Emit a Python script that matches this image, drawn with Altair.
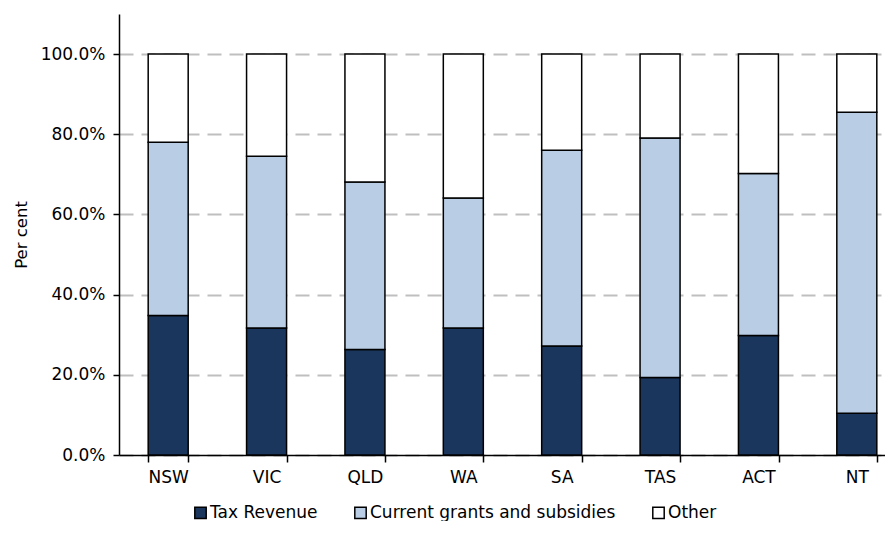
import altair as alt
import pandas as pd

states = ["NSW", "VIC", "QLD", "WA", "SA", "TAS", "ACT", "NT"]
series = ["Tax Revenue", "Current grants and subsidies", "Other"]
tax = [34.8, 31.7, 26.3, 31.7, 27.2, 19.3, 29.8, 10.4]
grants = [43.2, 42.8, 41.8, 32.4, 48.8, 59.8, 40.4, 75.1]
other = [round(100 - t - g, 1) for t, g in zip(tax, grants)]
colors = ["#1B365D", "#B9CDE5", "#FFFFFF"]
y_ticks = [0, 0.2, 0.4, 0.6, 0.8, 1.0]

rows = []
for i, s in enumerate(states):
    for k, (name, vals) in enumerate(zip(series, [tax, grants, other])):
        rows.append({"State": s, "Series": name, "Value": vals[i] / 100.0, "Order": k})
df = pd.DataFrame(rows)

FONT = "DejaVu Sans"

chart = alt.Chart(df).mark_bar(stroke="black", strokeWidth=1.5, size=40).encode(
    x=alt.X("State:N", sort=states,
            scale=alt.Scale(range=[0, 787], paddingInner=0.59, paddingOuter=0.295),
            axis=alt.Axis(title=None, labelAngle=0, labelFontSize=17, labelFont=FONT,
                          labelColor="black", domainColor="black", domainWidth=1.5,
                          tickColor="black", tickWidth=1.5, tickSize=7, tickBand="extent",
                          labelPadding=7, grid=False)),
    y=alt.Y("Value:Q", stack="zero",
            scale=alt.Scale(domain=[0, 1.1], nice=False),
            axis=alt.Axis(title="Per cent", format=".1%", values=y_ticks,
                          labelFontSize=17, labelFont=FONT, labelColor="black",
                          titleFont=FONT, titleFontSize=16.5, titleFontWeight="normal",
                          titleColor="black", titlePadding=11,
                          domainColor="black", domainWidth=1.5,
                          tickColor="black", tickWidth=1.5, tickSize=6, labelPadding=8,
                          grid=True, gridColor="#BFBFBF", gridDash=[14, 8], gridWidth=2)),
    color=alt.Color("Series:N", sort=series,
                    scale=alt.Scale(domain=series, range=colors),
                    legend=alt.Legend(title=None, orient="none", direction="horizontal",
                                      legendX=73, legendY=490,
                                      symbolType="square", symbolSize=130,
                                      symbolStrokeColor="black", symbolStrokeWidth=1.5,
                                      labelFont=FONT, labelFontSize=17, labelColor="black",
                                      labelLimit=0, labelOffset=1, columnPadding=33,
                                      padding=0)),
    order=alt.Order("Order:Q", sort="ascending"),
).properties(
    width=766, height=441, background="white",
    autosize=alt.AutoSizeParams(type="none"),
    padding={"left": 111, "top": 6, "right": 0, "bottom": 66},
).configure_view(stroke=None)

chart.save("out.html", embed_options={"renderer": "svg", "actions": False})
